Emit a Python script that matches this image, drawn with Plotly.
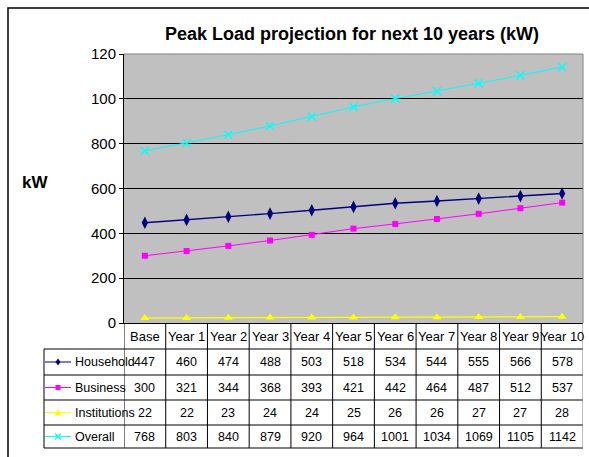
import plotly.graph_objects as go

categories = ["Base", "Year 1", "Year 2", "Year 3", "Year 4", "Year 5",
              "Year 6", "Year 7", "Year 8", "Year 9", "Year 10"]
household = [447, 460, 474, 488, 503, 518, 534, 544, 555, 566, 578]
business = [300, 321, 344, 368, 393, 421, 442, 464, 487, 512, 537]
institutions = [22, 22, 23, 24, 24, 25, 26, 26, 27, 27, 28]
overall = [768, 803, 840, 879, 920, 964, 1001, 1034, 1069, 1105, 1142]
series_names = ["Household", "Business", "Institutions", "Overall"]
y_tickvals = [0, 200, 400, 600, 800, 1000, 1200]
y_ticktext = ["0", "200", "400", "600", "800", "100", "120"]
title_text = "Peak Load projection for next 10 years (kW)"
y_title = "kW"

W, H = 589, 457
FONT = "Arial, Liberation Sans, sans-serif"
YMAX = 1200

def PX(x):
    return x / W

def PY(y):
    return 1 - y / H

# plot area in pixels
X0, X1, Y0, Y1 = 124, 583, 54, 323
n = len(categories)

styles = [
    dict(color="#000080", symbol="diamond-tall", size=9, lw=1.4),
    dict(color="#FF00FF", symbol="square", size=6, lw=1),
    dict(color="#FFFF00", symbol="triangle-up", size=8, lw=1.2),
    dict(color="#00FFFF", symbol="x-thin-open", size=8, lw=1),
]
values = [household, business, institutions, overall]

def marker(st):
    mk = dict(color=st["color"], symbol=st["symbol"], size=st["size"],
              line=dict(width=0))
    if st["symbol"].endswith("open"):
        mk["line"] = dict(color=st["color"], width=1.5)
    return mk

fig = go.Figure()
idx = list(range(n))
for name, vals, st in zip(series_names, values, styles):
    fig.add_trace(go.Scatter(
        x=idx, y=vals, mode="lines+markers", name=name,
        line=dict(color=st["color"], width=st["lw"]), marker=marker(st),
        showlegend=False, hoverinfo="skip"))

# table row geometry (pixels)
row_lines = [349, 375, 400, 425, 448]
row_centers = [(row_lines[i] + row_lines[i + 1]) / 2 for i in range(4)]
header_center = (Y1 + row_lines[0]) / 2

shapes = []
annotations = []
line_k = dict(color="black", width=1)

def ppath(points, close=True):
    s = "M " + " L ".join(f"{PX(x):.5f},{PY(y):.5f}" for x, y in points)
    return s + (" Z" if close else "")

# legend keys inside the table (line + marker glyph)
kx = 58
for name, st, yc in zip(series_names, styles, row_centers):
    c = st["color"]
    shapes.append(dict(type="line", xref="paper", yref="paper",
                       x0=PX(45), x1=PX(71), y0=PY(yc), y1=PY(yc),
                       line=dict(color=c, width=1)))
    sym = st["symbol"]
    if sym.startswith("diamond"):
        pts = [(kx, yc - 3.5), (kx + 2.5, yc), (kx, yc + 3.5), (kx - 2.5, yc)]
        shapes.append(dict(type="path", xref="paper", yref="paper", path=ppath(pts),
                           fillcolor=c, line=dict(width=0)))
    elif sym == "square":
        pts = [(kx - 2.5, yc - 2.5), (kx + 2.5, yc - 2.5), (kx + 2.5, yc + 2.5), (kx - 2.5, yc + 2.5)]
        shapes.append(dict(type="path", xref="paper", yref="paper", path=ppath(pts),
                           fillcolor=c, line=dict(width=0)))
    elif sym == "triangle-up":
        pts = [(kx, yc - 3.5), (kx + 3.5, yc + 3), (kx - 3.5, yc + 3)]
        shapes.append(dict(type="path", xref="paper", yref="paper", path=ppath(pts),
                           fillcolor=c, line=dict(width=0)))
    else:
        for (ax, ay, bx, by) in [(-3, -3, 3, 3), (-3, 3, 3, -3)]:
            shapes.append(dict(type="line", xref="paper", yref="paper",
                               x0=PX(kx + ax), y0=PY(yc + ay), x1=PX(kx + bx), y1=PY(yc + by),
                               line=dict(color=c, width=1.2)))

# horizontal table lines
for y in row_lines:
    shapes.append(dict(type="line", xref="paper", yref="paper",
                       x0=PX(44), x1=PX(X1), y0=PY(y), y1=PY(y), line=line_k))
# left border of label column
shapes.append(dict(type="line", xref="paper", yref="paper",
                   x0=PX(44), x1=PX(44), y0=PY(row_lines[0]), y1=PY(row_lines[-1]),
                   line=line_k))
# column boundaries
for k in range(n + 1):
    shapes.append(dict(type="line", xref="x", yref="paper",
                       x0=k - 0.5, x1=k - 0.5, y0=PY(Y1), y1=PY(row_lines[-1]),
                       line=dict(color="#808080" if k == n else "black", width=1)))
# plot area top / right border
shapes.append(dict(type="line", xref="paper", yref="paper",
                   x0=PX(X0), x1=PX(X1), y0=PY(Y0), y1=PY(Y0),
                   line=dict(color="#808080", width=1)))
shapes.append(dict(type="line", xref="paper", yref="paper",
                   x0=PX(X1), x1=PX(X1), y0=PY(Y0), y1=PY(Y1),
                   line=dict(color="#808080", width=1)))
# chart frame
shapes.append(dict(type="rect", xref="paper", yref="paper",
                   x0=PX(8), x1=PX(620), y0=PY(8), y1=PY(480),
                   line=dict(color="black", width=1.5), fillcolor="rgba(0,0,0,0)"))

# header labels
for i, c in enumerate(categories):
    annotations.append(dict(x=i, y=PY(header_center), xref="x", yref="paper",
                            text=c, showarrow=False, xanchor="center", yanchor="middle",
                            font=dict(family=FONT, size=13, color="black")))
# values and row labels
for r, vals in enumerate(values):
    for i, v in enumerate(vals):
        annotations.append(dict(x=i, y=PY(row_centers[r]), xref="x", yref="paper",
                                text=str(v), showarrow=False, xanchor="center",
                                yanchor="middle",
                                font=dict(family=FONT, size=12.5, color="black")))
    annotations.append(dict(x=PX(73), y=PY(row_centers[r]), xref="paper", yref="paper",
                            text=series_names[r], showarrow=False, xanchor="left",
                            yanchor="middle",
                            font=dict(family=FONT, size=12.5, color="black")))
# title and axis title
annotations.append(dict(x=PX(352), y=PY(34), xref="paper", yref="paper",
                        text="<b>" + title_text + "</b>", showarrow=False,
                        xanchor="center", yanchor="middle",
                        font=dict(family=FONT, size=18, color="black")))
annotations.append(dict(x=PX(35), y=PY(183), xref="paper", yref="paper",
                        text="<b>" + y_title + "</b>", showarrow=False,
                        xanchor="center", yanchor="middle",
                        font=dict(family=FONT, size=17, color="black")))

fig.update_layout(
    template="none",
    width=W, height=H, autosize=False,
    margin=dict(l=0, r=0, t=0, b=0, pad=0),
    paper_bgcolor="white", plot_bgcolor="#C0C0C0",
    showlegend=False,
    xaxis=dict(domain=[PX(X0), PX(X1)], range=[-0.5, n - 0.5], type="linear",
               showticklabels=False, showgrid=False, zeroline=False,
               showline=True, linecolor="black", linewidth=1, ticks="",
               automargin=False, fixedrange=True),
    yaxis=dict(domain=[PY(Y1), PY(Y0)], range=[0, YMAX],
               tickvals=y_tickvals, ticktext=y_ticktext,
               showgrid=True, gridcolor="black", gridwidth=1,
               zeroline=False, showline=True, linecolor="black", linewidth=1,
               ticks="outside", ticklen=4, tickcolor="black", tickwidth=1,
               tickfont=dict(family=FONT, size=15, color="black"),
               automargin=False, fixedrange=True),
    shapes=shapes, annotations=annotations,
)

fig.write_html(
    "out.html",
    config={"displayModeBar": False},
    post_script="document.body.style.margin='0';document.body.style.overflow='hidden';",
)
